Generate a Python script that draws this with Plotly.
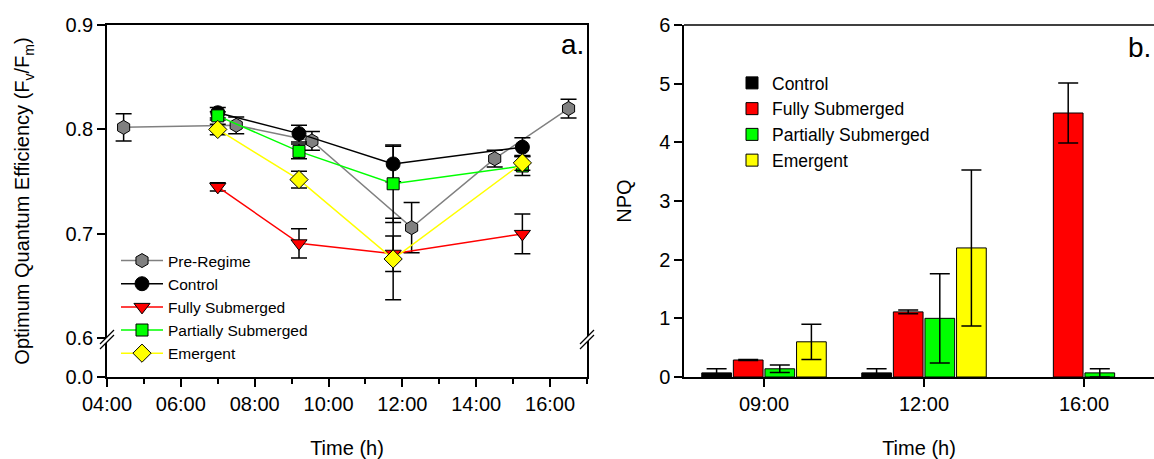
import plotly.graph_objects as go

# ---------------- Panel a data ----------------
pre_time = [4.45, 7.5, 9.55, 12.25, 14.5, 16.5]
pre_val = [0.802, 0.804, 0.789, 0.706, 0.772, 0.820]
pre_err = [0.013, 0.008, 0.009, 0.024, 0.008, 0.009]

treat_time = [7.0, 9.2, 11.75, 15.25]
control_val = [0.816, 0.796, 0.767, 0.783]
control_err = [0.005, 0.008, 0.017, 0.009]
fully_val = [0.745, 0.691, 0.681, 0.700]
fully_err = [0.004, 0.014, 0.017, 0.019]
partial_val = [0.813, 0.779, 0.748, 0.765]
partial_err = [0.004, 0.007, 0.037, 0.009]
emergent_val = [0.800, 0.752, 0.676, 0.768]
emergent_err = [0.005, 0.008, 0.039, 0.007]

x_tick_vals = [4, 6, 8, 10, 12, 14, 16]
x_tick_text = ["04:00", "06:00", "08:00", "10:00", "12:00", "14:00", "16:00"]
y_tick_vals = [0.563, 0.6, 0.7, 0.8, 0.9]
y_tick_text = ["0.0", "0.6", "0.7", "0.8", "0.9"]

# ---------------- Panel b data ----------------
npq_times = ["09:00", "12:00", "16:00"]
npq_control = [0.07, 0.07, None]
npq_control_err = [0.07, 0.07, 0]
npq_fully = [0.29, 1.11, 4.50]
npq_fully_err = [0.01, 0.03, 0.51]
npq_partial = [0.14, 1.00, 0.07]
npq_partial_err = [0.065, 0.76, 0.07]
npq_emergent = [0.60, 2.20, None]
npq_emergent_err = [0.30, 1.33, 0]

FONT = "Arial, Liberation Sans, sans-serif"
W, H = 1154, 459
ML, MT, MB = 107, 25, 82
PW = W - ML
PH = H - MT - MB


def px_x(px):
    return (px - ML) / PW


def px_y(py):
    return (H - MB - py) / PH


fig = go.Figure()

line_series = [
    ("Pre-Regime", pre_time, pre_val, pre_err, "#808080", "#808080", "hexagon", 14),
    ("Control", treat_time, control_val, control_err, "black", "black", "circle", 14),
    ("Fully Submerged", treat_time, fully_val, fully_err, "#ff0000", "#ff0000", "triangle-down", 14),
    ("Partially Submerged", treat_time, partial_val, partial_err, "#00ff00", "#00ff00", "square", 12),
    ("Emergent", treat_time, emergent_val, emergent_err, "#ffff00", "#ffff00", "diamond", 14),
]
for name, xs, ys, es, lc, mc, sym, sz in line_series:
    fig.add_trace(go.Scatter(
        x=xs, y=ys, name=name, mode="lines+markers",
        line=dict(color=lc, width=1.5),
        marker=dict(symbol=sym, size=sz, color=mc, line=dict(color="black", width=1)),
        error_y=dict(type="data", array=es, color="black", thickness=1.5, width=8),
        xaxis="x", yaxis="y", legend="legend", legendgroup=name,
    ))

bar_series = [
    ("Control", npq_control, npq_control_err, "black"),
    ("Fully Submerged", npq_fully, npq_fully_err, "#ff0000"),
    ("Partially Submerged", npq_partial, npq_partial_err, "#00ff00"),
    ("Emergent", npq_emergent, npq_emergent_err, "#ffff00"),
]
for name, vals, errs, col in bar_series:
    fig.add_trace(go.Bar(
        x=npq_times, y=vals, name=name,
        marker=dict(color=col, line=dict(color="black", width=1)),
        error_y=dict(type="data", array=errs, color="black", thickness=1.5, width=10),
        xaxis="x2", yaxis="y2", legend="legend2", legendgroup="b" + name,
    ))

axis_common = dict(showline=True, linecolor="black", linewidth=1.5, ticks="outside",
                   tickcolor="black", tickwidth=1.5, ticklen=8, showgrid=False,
                   zeroline=False, tickfont=dict(family=FONT, size=20, color="black"))

fig.update_layout(
    width=W, height=H,
    margin=dict(l=ML, r=0, t=MT, b=MB, pad=0),
    paper_bgcolor="white", plot_bgcolor="white",
    font=dict(family=FONT, color="black"),
    barmode="group", bargap=0.21, bargroupgap=0.06,
    xaxis=dict(domain=[0, px_x(587)], range=[4, 17], tickvals=x_tick_vals, ticktext=x_tick_text,
               mirror=True, anchor="y",
               minor=dict(tickvals=[5, 7, 9, 11, 13, 15, 17], ticks="outside", ticklen=5,
                          tickcolor="black", tickwidth=1.5),
               title=dict(text="Time (h)", font=dict(family=FONT, size=20), standoff=31),
               **axis_common),
    yaxis=dict(domain=[0, 1], range=[0.563, 0.9], tickvals=y_tick_vals, ticktext=y_tick_text,
               mirror=True, anchor="x",
               title=dict(text="Optimum Quantum Efficiency (F<sub>v</sub>/F<sub>m</sub>)",
                          font=dict(family=FONT, size=20), standoff=30),
               **axis_common),
    xaxis2=dict(domain=[px_x(684), 1], range=[-0.5, 2.4375], type="category", anchor="y2",
                title=dict(text="Time (h)", font=dict(family=FONT, size=20), standoff=31),
                **axis_common),
    yaxis2=dict(domain=[0, 1], range=[0, 6], tickvals=[0, 1, 2, 3, 4, 5, 6], anchor="x2",
                title=dict(text="NPQ", font=dict(family=FONT, size=20), standoff=22),
                **axis_common),
    legend=dict(x=px_x(116), y=px_y(244), xanchor="left", yanchor="top",
                font=dict(family=FONT, size=15.5), bgcolor="rgba(0,0,0,0)",
                traceorder="normal", itemwidth=42),
    legend2=dict(x=px_x(732), y=px_y(65), xanchor="left", yanchor="top",
                 font=dict(family=FONT, size=17.5), bgcolor="rgba(0,0,0,0)",
                 traceorder="normal"),
)

# top border of panel b (right edge lies outside the picture)
fig.add_shape(type="line", xref="paper", yref="paper", x0=px_x(684), x1=1, y0=1, y1=1,
              line=dict(color="black", width=1.5))

# axis break marks on both sides of panel a
for xp in [0, px_x(587)]:
    yb = px_y(342)
    fig.add_shape(type="path", xref="paper", yref="paper", xsizemode="pixel", ysizemode="pixel",
                  xanchor=xp, yanchor=yb, path="M -7,-7 L 7,7 L 7,12 L -7,-2 Z",
                  fillcolor="white", line=dict(width=0), layer="above")
    fig.add_shape(type="path", xref="paper", yref="paper", xsizemode="pixel", ysizemode="pixel",
                  xanchor=xp, yanchor=yb, path="M -7,-7 L 7,7", line=dict(color="black", width=1.2),
                  layer="above")
    fig.add_shape(type="path", xref="paper", yref="paper", xsizemode="pixel", ysizemode="pixel",
                  xanchor=xp, yanchor=yb, path="M -7,-2 L 7,12", line=dict(color="black", width=1.2),
                  layer="above")

fig.add_annotation(text="a.", xref="paper", yref="paper", x=px_x(586), y=px_y(45),
                   xanchor="right", yanchor="middle", showarrow=False,
                   font=dict(family=FONT, size=28, color="black"))
fig.add_annotation(text="b.", xref="paper", yref="paper", x=px_x(1153), y=px_y(48),
                   xanchor="right", yanchor="middle", showarrow=False,
                   font=dict(family=FONT, size=28, color="black"))

fig.write_html("out.html")
